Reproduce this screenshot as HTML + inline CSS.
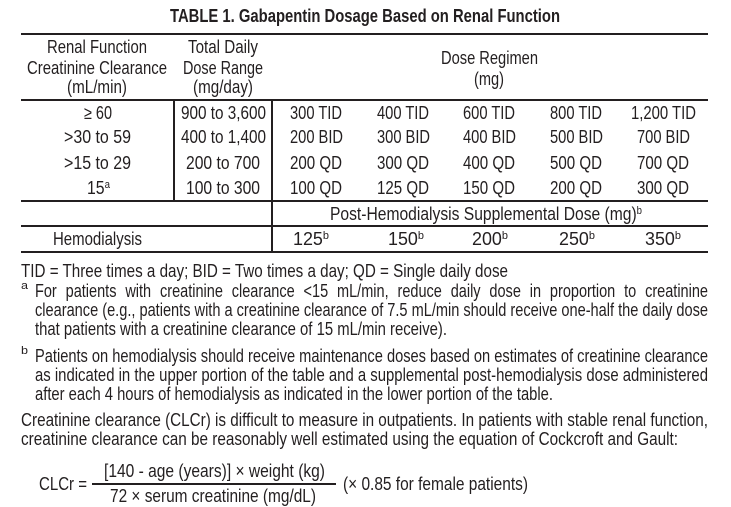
<!DOCTYPE html>
<html><head><meta charset="utf-8"><style>
html,body{margin:0;padding:0;background:#fff;}
body{width:731px;height:507px;position:relative;overflow:hidden;font-family:"Liberation Sans",Arial,sans-serif;color:#231f20;}
.t{position:absolute;white-space:nowrap;font-size:18px;line-height:20px;transform-origin:0 50%;}
.b{font-weight:bold;font-size:18px;}
sup{font-size:11px;line-height:0;vertical-align:6px;}
.h{position:absolute;background:#231f20;height:2px;}
.v{position:absolute;background:#231f20;width:2px;}
</style></head><body>
<div class="h" style="left:21px;top:33px;width:687px"></div>
<div class="h" style="left:21px;top:99px;width:687px"></div>
<div class="h" style="left:21px;top:200px;width:687px"></div>
<div class="h" style="left:21px;top:225px;width:687px"></div>
<div class="h" style="left:21px;top:251px;width:687px"></div>
<div class="v" style="left:173px;top:100px;height:101px"></div>
<div class="v" style="left:271px;top:100px;height:152px"></div>
<div class="h" style="left:92px;top:483px;width:244px;height:1.5px"></div>

<span class="t b" style="--c:365;--w:390;top:6px">TABLE 1. Gabapentin Dosage Based on Renal Function</span>

<span class="t" style="--c:97;--w:100;top:37px">Renal Function</span>
<span class="t" style="--c:97;--w:140;top:58px">Creatinine Clearance</span>
<span class="t" style="--c:97;--w:60;top:77px">(mL/min)</span>
<span class="t" style="--c:223;--w:70;top:37px">Total Daily</span>
<span class="t" style="--c:223;--w:80;top:58px">Dose Range</span>
<span class="t" style="--c:223;--w:60;top:77px">(mg/day)</span>
<span class="t" style="--c:489;--w:97;top:48px">Dose Regimen</span>
<span class="t" style="--c:489;--w:30;top:69px">(mg)</span>

<span class="t" style="--c:98;--w:28;top:103px">≥ 60</span>
<span class="t" style="--c:97;--w:67;top:127px">&gt;30 to 59</span>
<span class="t" style="--c:97;--w:67;top:153px">&gt;15 to 29</span>
<span class="t" style="--c:98;--w:23;top:178px">15<sup>a</sup></span>

<span class="t" style="--c:223;--w:85;top:103px">900 to 3,600</span>
<span class="t" style="--c:223;--w:85;top:127px">400 to 1,400</span>
<span class="t" style="--c:223;--w:74;top:153px">200 to 700</span>
<span class="t" style="--c:223;--w:74;top:178px">100 to 300</span>

<span class="t" style="--c:316;--w:52;top:103px">300 TID</span>
<span class="t" style="--c:403;--w:52;top:103px">400 TID</span>
<span class="t" style="--c:489;--w:52;top:103px">600 TID</span>
<span class="t" style="--c:576;--w:52;top:103px">800 TID</span>
<span class="t" style="--c:663;--w:65;top:103px">1,200 TID</span>

<span class="t" style="--c:316;--w:53;top:127px">200 BID</span>
<span class="t" style="--c:403;--w:53;top:127px">300 BID</span>
<span class="t" style="--c:489;--w:53;top:127px">400 BID</span>
<span class="t" style="--c:576;--w:53;top:127px">500 BID</span>
<span class="t" style="--c:663;--w:53;top:127px">700 BID</span>

<span class="t" style="--c:316;--w:52;top:153px">200 QD</span>
<span class="t" style="--c:403;--w:52;top:153px">300 QD</span>
<span class="t" style="--c:489;--w:52;top:153px">400 QD</span>
<span class="t" style="--c:576;--w:52;top:153px">500 QD</span>
<span class="t" style="--c:663;--w:52;top:153px">700 QD</span>

<span class="t" style="--c:316;--w:52;top:178px">100 QD</span>
<span class="t" style="--c:403;--w:52;top:178px">125 QD</span>
<span class="t" style="--c:489;--w:52;top:178px">150 QD</span>
<span class="t" style="--c:576;--w:52;top:178px">200 QD</span>
<span class="t" style="--c:663;--w:52;top:178px">300 QD</span>

<span class="t" style="--x:330;--w:312;top:204px">Post-Hemodialysis Supplemental Dose (mg)<sup>b</sup></span>
<span class="t" style="--c:97;--w:89;top:229px">Hemodialysis</span>
<span class="t" style="--c:311;--w:36;top:229px">125<sup>b</sup></span>
<span class="t" style="--c:406;--w:36;top:229px">150<sup>b</sup></span>
<span class="t" style="--c:490;--w:36;top:229px">200<sup>b</sup></span>
<span class="t" style="--c:577;--w:36;top:229px">250<sup>b</sup></span>
<span class="t" style="--c:663;--w:36;top:229px">350<sup>b</sup></span>

<span class="t" style="--x:21;--w:487;top:261px">TID = Three times a day; BID = Two times a day; QD = Single daily dose</span>
<span class="t" style="--x:21;--w:7;top:279px"><sup>a</sup></span>
<span class="t" style="--x:35;--w:673;top:281px;word-spacing:6px">For patients with creatinine clearance &lt;15 mL/min, reduce daily dose in proportion to creatinine</span>
<span class="t" style="--x:35;--w:673;top:300px">clearance (e.g., patients with a creatinine clearance of 7.5 mL/min should receive one-half the daily dose</span>
<span class="t" style="--x:35;--w:412;top:319px">that patients with a creatinine clearance of 15 mL/min receive).</span>
<span class="t" style="--x:21;--w:7;top:344px"><sup>b</sup></span>
<span class="t" style="--x:35;--w:673;top:346px">Patients on hemodialysis should receive maintenance doses based on estimates of creatinine clearance</span>
<span class="t" style="--x:35;--w:673;top:365px">as indicated in the upper portion of the table and a supplemental post-hemodialysis dose administered</span>
<span class="t" style="--x:35;--w:518;top:384px">after each 4 hours of hemodialysis as indicated in the lower portion of the table.</span>
<span class="t" style="--x:21;--w:687;top:410px">Creatinine clearance (CLCr) is difficult to measure in outpatients. In patients with stable renal function,</span>
<span class="t" style="--x:21;--w:657;top:429px">creatinine clearance can be reasonably well estimated using the equation of Cockcroft and Gault:</span>

<span class="t" style="--x:39;--w:48;top:474px">CLCr =</span>
<span class="t" style="--x:104;--w:221;top:461px">[140 - age (years)] × weight (kg)</span>
<span class="t" style="--x:110;--w:206;top:486px">72 × serum creatinine (mg/dL)</span>
<span class="t" style="--x:343;--w:185;top:474px">(× 0.85 for female patients)</span>

<script>
document.querySelectorAll('.t').forEach(function(el){
  var cs=getComputedStyle(el);
  var w=parseFloat(cs.getPropertyValue('--w'));
  var c=cs.getPropertyValue('--c'), x=cs.getPropertyValue('--x');
  var nat=el.getBoundingClientRect().width||1;
  var left = x && x.trim()!=='' ? parseFloat(x) : parseFloat(c)-w/2;
  el.style.left=left+'px';
  el.style.transform='scaleX('+(w/nat)+')';
});
</script>
</body></html>
